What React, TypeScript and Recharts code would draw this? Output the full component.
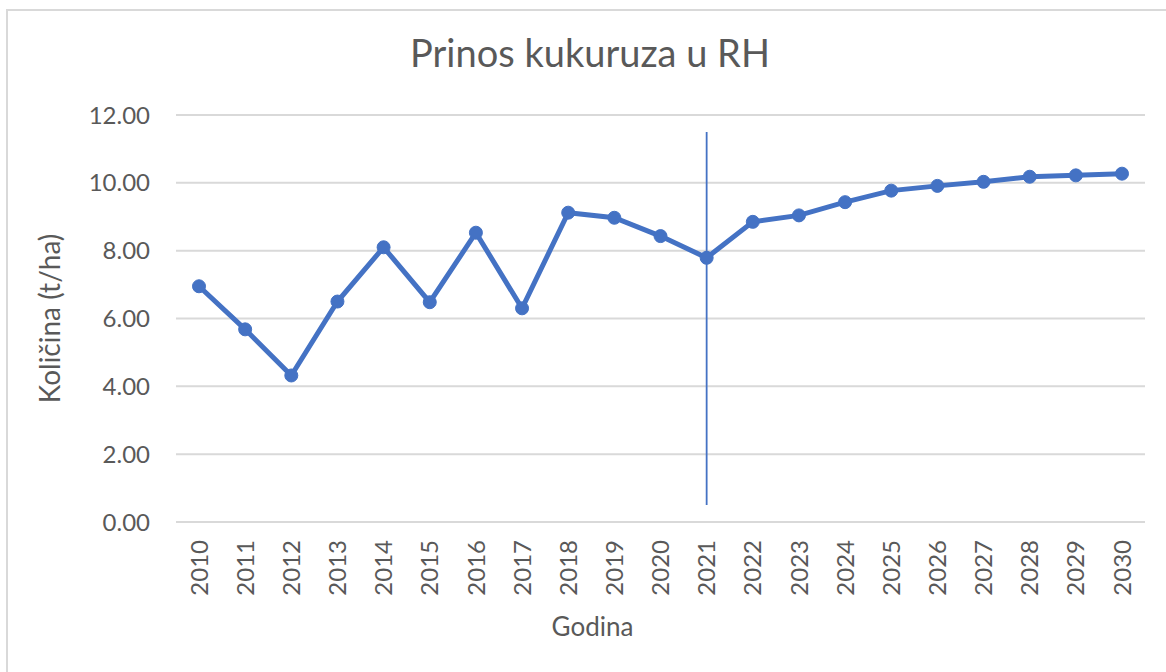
import React from 'react';
import { LineChart, Line, XAxis, YAxis, CartesianGrid, ReferenceLine, Label } from 'recharts';

const years = ['2010','2011','2012','2013','2014','2015','2016','2017','2018','2019','2020','2021','2022','2023','2024','2025','2026','2027','2028','2029','2030'];
const yields = [6.95, 5.68, 4.32, 6.50, 8.10, 6.48, 8.53, 6.30, 9.12, 8.97, 8.43, 7.79, 8.85, 9.04, 9.43, 9.77, 9.91, 10.03, 10.18, 10.22, 10.27];
const yTicks = [0, 2, 4, 6, 8, 10, 12];
const markerYear = '2021';
const markerRange = [0.5, 11.5];

const data = years.map((y, i) => ({ year: y, value: yields[i] }));

const FONT = 'Lato, "Open Sans", sans-serif';
const TEXT = '#595959';
const BLUE = '#4472C4';

const XTick = (props: any) => {
  const { x, y, payload } = props;
  return (
    <text
      x={x}
      y={y}
      transform={`rotate(-90, ${x}, ${y})`}
      textAnchor="end"
      dy="0.36em"
      fill={TEXT}
      fontSize={24}
      fontFamily={FONT}
    >
      {payload.value}
    </text>
  );
};

export default function App() {
  return (
    <div style={{ position: 'absolute', left: 0, top: 0, width: 1166, height: 672, background: '#fff', overflow: 'hidden' }}>
      <div style={{ position: 'absolute', left: 6, top: 9, width: 1200, height: 700, border: '2px solid #D9D9D9', boxSizing: 'border-box' }} />
      <LineChart
        width={1166}
        height={672}
        data={data}
        margin={{ top: 115, right: 21, left: 0, bottom: 0 }}
        style={{ position: 'absolute', left: 0, top: 0, fontFamily: FONT }}
      >
        <text x={590} y={67} textAnchor="middle" fill={TEXT} fontSize={38} fontFamily={FONT}>
          Prinos kukuruza u RH
        </text>
        <CartesianGrid vertical={false} stroke="#D9D9D9" strokeWidth={2} />
        <XAxis
          dataKey="year"
          height={150}
          interval={0}
          padding={{ left: 23, right: 23 }}
          tick={<XTick />}
          tickLine={false}
          axisLine={{ stroke: '#D9D9D9', strokeWidth: 2 }}
          tickSize={0}
          tickMargin={18}
        >
          <Label value="Godina" position="insideBottom" offset={36} dx={-68} fill={TEXT} fontSize={26} fontFamily={FONT} />
        </XAxis>
        <YAxis
          width={176}
          domain={[0, 12]}
          ticks={yTicks}
          tickFormatter={(v: number) => v.toFixed(2)}
          tick={{ fill: TEXT, fontSize: 24, fontFamily: FONT }}
          tickLine={false}
          axisLine={false}
          tickSize={0}
          tickMargin={26}
        >
          <Label value="Količina (t/ha)" angle={-90} position="insideLeft" offset={50} fill={TEXT} fontSize={28} fontFamily={FONT} style={{ textAnchor: 'middle' }} />
        </YAxis>
        <ReferenceLine
          segment={[{ x: markerYear, y: markerRange[0] }, { x: markerYear, y: markerRange[1] }]}
          stroke={BLUE}
          strokeWidth={1.8}
        />
        <Line
          type="linear"
          dataKey="value"
          stroke={BLUE}
          strokeWidth={5}
          dot={{ r: 6.5, fill: BLUE, stroke: BLUE, strokeWidth: 1 }}
          activeDot={false}
          isAnimationActive={false}
        />
      </LineChart>
    </div>
  );
}
